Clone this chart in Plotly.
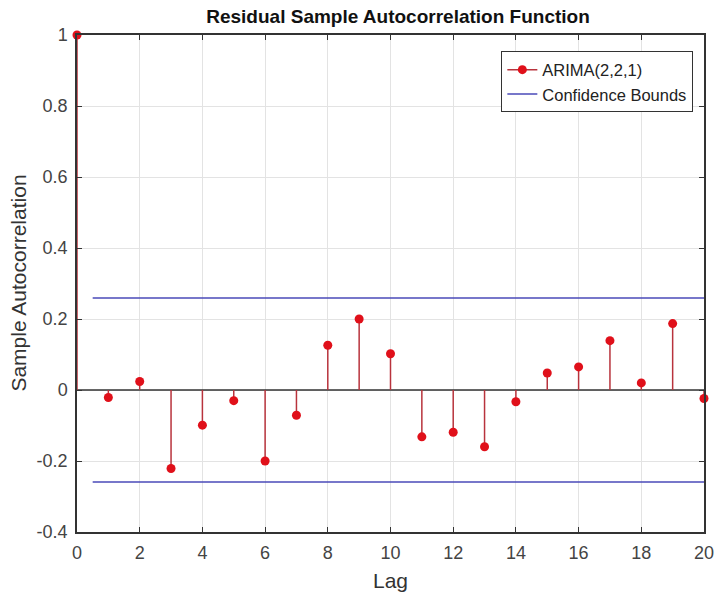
import plotly.graph_objects as go

lags = list(range(0, 21))
acf = [1.0, -0.021, 0.024, -0.221, -0.099, -0.03, -0.20, -0.071, 0.126, 0.20, 0.102,
       -0.132, -0.119, -0.16, -0.033, 0.048, 0.065, 0.139, 0.02, 0.187, -0.024]
bound_x = [0.5, 20]
bound_val = 0.259
x_ticks = [0, 2, 4, 6, 8, 10, 12, 14, 16, 18, 20]
y_ticks = [-0.4, -0.2, 0, 0.2, 0.4, 0.6, 0.8, 1]
y_ticktext = ["-0.4", "-0.2", "0", "0.2", "0.4", "0.6", "0.8", "1"]

stem_x, stem_y = [], []
for l, v in zip(lags, acf):
    stem_x += [l, l, None]
    stem_y += [0, v, None]

STEM = "#b8333c"
MARK = "#e0101a"
BLUE = "#4a4ab8"
FONT = "Liberation Sans, Arial, sans-serif"

fig = go.Figure()
fig.add_trace(go.Scatter(x=[0, 20], y=[0, 0], mode="lines",
                         line=dict(color="#333333", width=1.5), showlegend=False, hoverinfo="skip"))
fig.add_trace(go.Scatter(x=stem_x, y=stem_y, mode="lines",
                         line=dict(color=STEM, width=1.5), showlegend=False))
fig.add_trace(go.Scatter(x=lags, y=acf, mode="markers", cliponaxis=False,
                         marker=dict(color=MARK, size=9), showlegend=False))
fig.add_trace(go.Scatter(x=[None], y=[None], mode="lines+markers", name="ARIMA(2,2,1)",
                         line=dict(color=STEM, width=1.5), marker=dict(color=MARK, size=9)))
fig.add_trace(go.Scatter(x=bound_x, y=[bound_val, bound_val], mode="lines", name="Confidence Bounds",
                         line=dict(color=BLUE, width=1.5), legendgroup="cb"))
fig.add_trace(go.Scatter(x=bound_x, y=[-bound_val, -bound_val], mode="lines", showlegend=False,
                         line=dict(color=BLUE, width=1.5), legendgroup="cb"))

fig.update_layout(
    width=717, height=597,
    margin=dict(l=77, r=13, t=35, b=65),
    paper_bgcolor="white", plot_bgcolor="white",
    font=dict(family=FONT, color="#333333"),
    title=dict(text="<b>Residual Sample Autocorrelation Function</b>", x=0.512, xanchor="center",
               xref="paper", y=0.984, yanchor="top", font=dict(size=19, color="#111111")),
    legend=dict(x=0.983, y=0.967, xanchor="right", yanchor="top",
                bgcolor="white", bordercolor="#333333", borderwidth=1,
                font=dict(size=16.5, color="#222222"), tracegroupgap=0),
    xaxis=dict(range=[0, 20], tickvals=x_ticks, showgrid=True, gridcolor="#e3e3e3",
               showline=True, linecolor="#333333", linewidth=1.5, mirror="ticks",
               ticks="inside", ticklen=5, tickcolor="#333333", zeroline=False, automargin=False,
               ticklabelstandoff=4,
               tickfont=dict(size=18, color="#444444")),
    yaxis=dict(range=[-0.4, 1], tickvals=y_ticks, ticktext=y_ticktext,
               showgrid=True, gridcolor="#e3e3e3",
               showline=True, linecolor="#333333", linewidth=1.5, mirror="ticks",
               ticks="inside", ticklen=5, tickcolor="#333333", zeroline=False, automargin=False,
               ticklabelstandoff=4,
               tickfont=dict(size=18, color="#444444")),
    annotations=[
        dict(text="Lag", xref="paper", yref="paper", x=0.5, y=-0.097, xanchor="center",
             yanchor="middle", showarrow=False, font=dict(size=21, color="#333333")),
        dict(text="Sample Autocorrelation", xref="paper", yref="paper", x=-0.094, y=0.5,
             xanchor="center", yanchor="middle", textangle=-90, showarrow=False,
             font=dict(size=21, color="#333333")),
    ],
)

fig.write_html("out.html", config={"displayModeBar": False},
               post_script="document.body.style.margin='0';")
